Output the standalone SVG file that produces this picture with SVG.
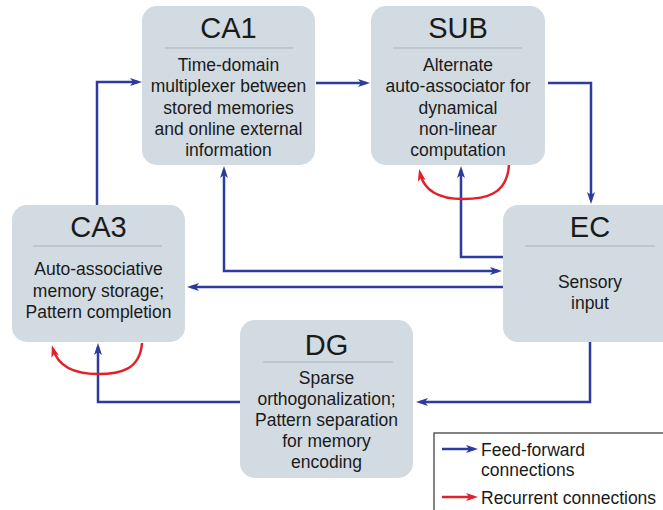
<svg xmlns="http://www.w3.org/2000/svg" width="663" height="510" viewBox="0 0 663 510">
<style>
.box{fill:#d2dae2}
.sep{stroke:#a9b2bb;stroke-width:1}
.title{font-family:"Liberation Sans",Arial,sans-serif;font-size:29px;fill:#1a1a1a;text-anchor:middle}
.body{font-family:"Liberation Sans",Arial,sans-serif;font-size:17.5px;fill:#1a1a1a;text-anchor:middle}
.leg{font-family:"Liberation Sans",Arial,sans-serif;font-size:17.5px;fill:#1a1a1a}
.ff{fill:none;stroke:#2c3b9c;stroke-width:2.5;marker-end:url(#ab)}
.rc{fill:none;stroke:#e2202a;stroke-width:2.5;marker-end:url(#ar)}
</style>
<defs>
<marker id="ab" viewBox="0 0 12 8" refX="8" refY="4" markerWidth="12" markerHeight="8" markerUnits="userSpaceOnUse" orient="auto-start-reverse">
<path d="M0,0 L12,4 L0,8 L3,4 z" fill="#2c3b9c"/>
</marker>
<marker id="ar" viewBox="0 0 12 8" refX="8" refY="4" markerWidth="12" markerHeight="8" markerUnits="userSpaceOnUse" orient="auto">
<path d="M0,0 L12,4 L0,8 L3,4 z" fill="#e2202a"/>
</marker>
</defs>
<rect width="663" height="510" fill="#ffffff"/>

<g id="CA1">
<rect class="box" x="142" y="6" width="173" height="159" rx="15"/>
<text class="title" x="228.5" y="38">CA1</text>
<line class="sep" x1="165" y1="48" x2="293" y2="48"/>
<text class="body" x="228.5" y="70.5">Time-domain</text>
<text class="body" x="228.5" y="92">multiplexer between</text>
<text class="body" x="228.5" y="113.5">stored memories</text>
<text class="body" x="228.5" y="135">and online external</text>
<text class="body" x="228.5" y="156">information</text>
</g>

<g id="SUB">
<rect class="box" x="371" y="6" width="174" height="159" rx="15"/>
<text class="title" x="458" y="38">SUB</text>
<line class="sep" x1="393" y1="48" x2="522" y2="48"/>
<text class="body" x="458" y="70.5">Alternate</text>
<text class="body" x="458" y="92">auto-associator for</text>
<text class="body" x="458" y="113.5">dynamical</text>
<text class="body" x="458" y="135">non-linear</text>
<text class="body" x="458" y="156">computation</text>
</g>

<g id="CA3">
<rect class="box" x="12" y="205" width="173" height="137" rx="15"/>
<text class="title" x="98.5" y="237">CA3</text>
<line class="sep" x1="33" y1="246" x2="162" y2="246"/>
<text class="body" x="98.5" y="275">Auto-associative</text>
<text class="body" x="98.5" y="296.5">memory storage;</text>
<text class="body" x="98.5" y="318">Pattern completion</text>
</g>

<g id="EC">
<rect class="box" x="503" y="205" width="180" height="137" rx="15"/>
<text class="title" x="590" y="237">EC</text>
<line class="sep" x1="525" y1="246" x2="655" y2="246"/>
<text class="body" x="590" y="288">Sensory</text>
<text class="body" x="590" y="309">input</text>
</g>

<g id="DG">
<rect class="box" x="240" y="320" width="173" height="158" rx="15"/>
<text class="title" x="326.5" y="355">DG</text>
<line class="sep" x1="263" y1="362" x2="393" y2="362"/>
<text class="body" x="326.5" y="384">Sparse</text>
<text class="body" x="326.5" y="405">orthogonalization;</text>
<text class="body" x="326.5" y="426">Pattern separation</text>
<text class="body" x="326.5" y="447">for memory</text>
<text class="body" x="326.5" y="467.5">encoding</text>
</g>

<g id="connectors">
<path class="ff" d="M97,205 V82 H138"/>
<path class="ff" d="M316,83 H366"/>
<path class="ff" d="M548,83 H591 V200"/>
<path class="ff" d="M503,257 H461 V170"/>
<path class="ff" d="M224,170 V271 H498" marker-start="url(#ab)"/>
<path class="ff" d="M503,287 H191"/>
<path class="ff" d="M590,342 V402 H420"/>
<path class="ff" d="M240,402 H98 V347"/>
<path class="rc" d="M509,165 C507,195 485,199 463,199 C440,199 424,191 420,173"/>
<path class="rc" d="M142,343 C140,370 120,374 98,374 C74,374 58,366 53,349"/>
</g>

<g id="legend">
<rect x="434" y="433" width="240" height="90" fill="#ffffff" stroke="#333333" stroke-width="1.2"/>
<path class="ff" d="M442,449 H474"/>
<text class="leg" x="481" y="456">Feed-forward</text>
<text class="leg" x="481" y="476">connections</text>
<path class="rc" d="M442,497 H474"/>
<text class="leg" x="481" y="504">Recurrent connections</text>
</g>
</svg>
